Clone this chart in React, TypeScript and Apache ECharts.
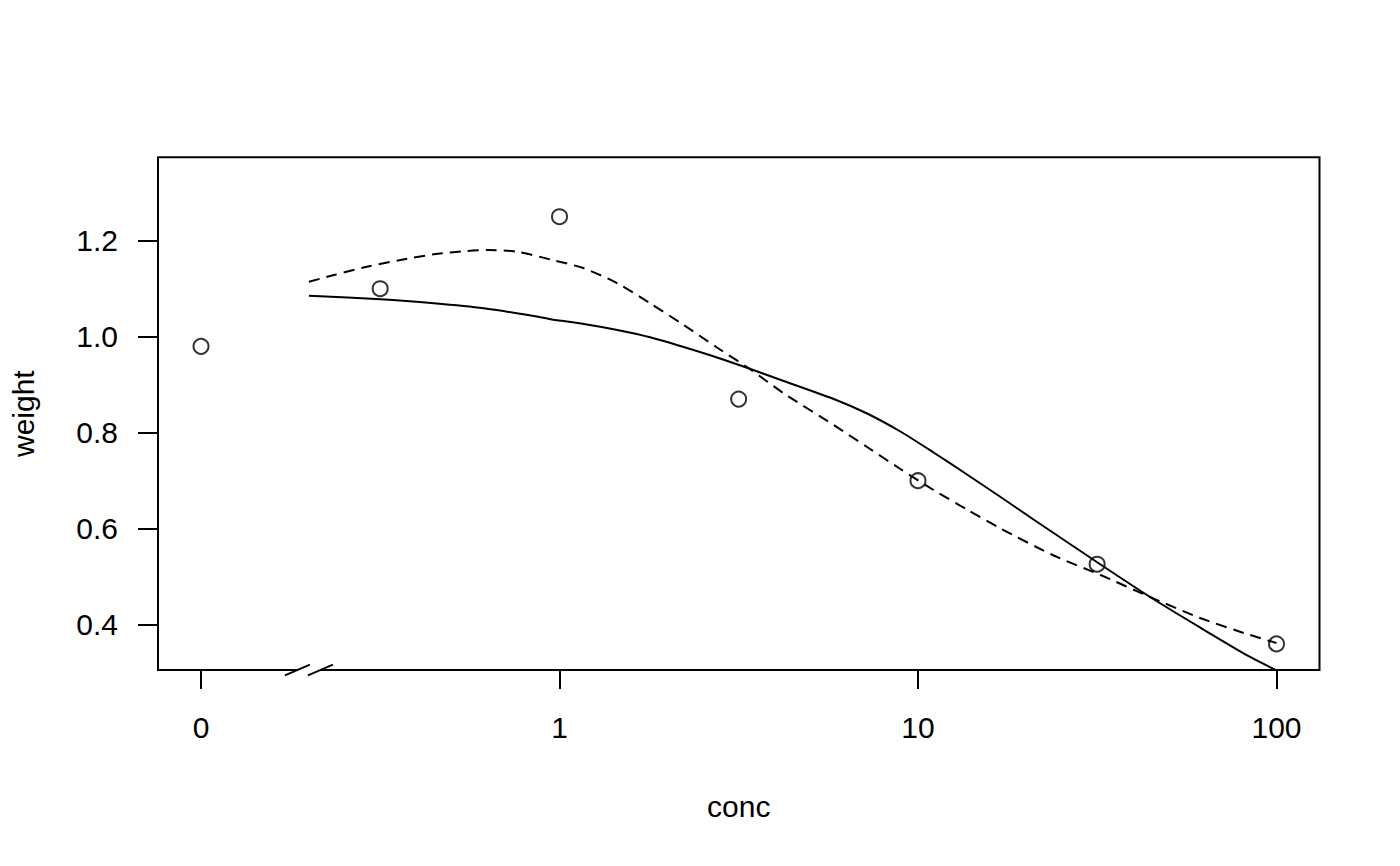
import React, { useEffect, useRef } from "react";
import * as echarts from "echarts";

// ---- data ----
const pointConc = [0, 0.316, 1, 3.16, 10, 31.6, 100];
const pointWeight = [0.98, 1.1, 1.25, 0.87, 0.7, 0.526, 0.36];

// solid fitted curve
const solidConc = [0.2, 0.317, 0.446, 0.615, 0.848, 0.944, 1.17, 1.45, 1.79, 2.22, 2.75, 3.41, 4.22, 5.82, 7.21, 8.93, 11.05, 13.7, 17.0, 21.0, 32.3, 44.4, 61.2, 84.4, 100];
const solidWeight = [1.0854, 1.0779, 1.0696, 1.0592, 1.0431, 1.0363, 1.0265, 1.014, 0.9988, 0.9785, 0.9567, 0.9327, 0.9077, 0.8702, 0.84, 0.8025, 0.7588, 0.7129, 0.666, 0.6192, 0.5254, 0.4577, 0.3942, 0.3327, 0.305];

// dashed fitted curve
const dashedConc = [0.2, 0.235, 0.29, 0.36, 0.446, 0.553, 0.63, 0.762, 0.944, 1.17, 1.45, 1.79, 2.22, 2.75, 3.41, 4.22, 5.82, 7.21, 8.93, 11.05, 13.7, 17.0, 23.9, 32.3, 44.4, 61.2, 84.4, 100];
const dashedWeight = [1.1146, 1.1285, 1.1458, 1.1598, 1.1717, 1.1785, 1.1806, 1.1771, 1.1608, 1.1425, 1.1113, 1.0696, 1.0244, 0.9775, 0.9317, 0.8821, 0.816, 0.7702, 0.7244, 0.6806, 0.64, 0.6004, 0.5442, 0.5035, 0.4577, 0.414, 0.3785, 0.3619];

const xTickConc = [0, 1, 10, 100];
const yTicks = [0.4, 0.6, 0.8, 1.0, 1.2];

const BREAK_CONC = 0.2;
const ZERO_POS = -1; // log10 position at which conc 0 is drawn
const X_MIN = -1.12;
const X_MAX = 2.12;
const Y_MIN = 0.3056;
const Y_MAX = 1.3738;

const toX = (c: number) => (c === 0 ? ZERO_POS : Math.log10(c));
const pairs = (xs: number[], ys: number[]) => xs.map((c, i) => [toX(c), ys[i]]);

const FONT = "'Liberation Sans', Arial, Helvetica, sans-serif";

export default function App() {
  const ref = useRef<HTMLDivElement>(null);
  useEffect(() => {
    if (!ref.current) return;
    const chart = echarts.init(ref.current, undefined, { renderer: "svg" });
    const xTickPos = xTickConc.map(toX);
    chart.setOption({
      animation: false,
      backgroundColor: "#fff",
      grid: {
        left: 157.5,
        right: 80.5,
        top: 157.3,
        bottom: 196,
        show: true,
        borderColor: "#000",
        borderWidth: 2,
        backgroundColor: "transparent",
      },
      xAxis: {
        type: "value",
        min: X_MIN,
        max: X_MAX,
        name: "conc",
        nameLocation: "middle",
        nameGap: 121,
        nameTextStyle: { fontFamily: FONT, fontSize: 30, color: "#000" },
        axisLine: { show: false, onZero: false },
        splitLine: { show: false },
        axisTick: {
          show: true,
          inside: false,
          length: 19,
          lineStyle: { color: "#000", width: 2 },
          customValues: xTickPos,
        },
        axisLabel: {
          margin: 42,
          fontFamily: FONT,
          fontSize: 30,
          color: "#000",
          customValues: xTickPos,
          formatter: (v: number) => {
            const i = xTickPos.findIndex((t) => Math.abs(t - v) < 1e-6);
            return i >= 0 ? String(xTickConc[i]) : "";
          },
        },
      },
      yAxis: {
        type: "value",
        min: Y_MIN,
        max: Y_MAX,
        name: "weight",
        nameLocation: "middle",
        nameRotate: 90,
        nameGap: 120,
        nameTextStyle: { fontFamily: FONT, fontSize: 30, color: "#000" },
        axisLine: { show: false, onZero: false },
        splitLine: { show: false },
        axisTick: {
          show: true,
          inside: false,
          length: 20,
          lineStyle: { color: "#000", width: 2 },
          customValues: yTicks,
        },
        axisLabel: {
          margin: 40,
          fontFamily: FONT,
          fontSize: 30,
          color: "#000",
          customValues: yTicks,
          formatter: (v: number) => v.toFixed(1),
        },
      },
      series: [
        {
          type: "line",
          data: pairs(solidConc, solidWeight),
          showSymbol: false,
          smooth: 0.25,
          clip: true,
          lineStyle: { color: "#000", width: 2 },
          z: 2,
        },
        {
          type: "line",
          data: pairs(dashedConc, dashedWeight),
          showSymbol: false,
          smooth: 0.25,
          clip: true,
          lineStyle: { color: "#000", width: 2, type: [11, 7] },
          z: 2,
        },
        {
          type: "scatter",
          data: pairs(pointConc, pointWeight),
          symbol: "circle",
          symbolSize: 15,
          itemStyle: { color: "rgba(0,0,0,0)", borderColor: "#000", borderWidth: 2 },
          z: 3,
        },
      ],
    });

    const [bx, by] = chart.convertToPixel({ gridIndex: 0 }, [Math.log10(BREAK_CONC), Y_MIN]) as number[];
    const dx = 12.5;
    const dy = 5.4;
    const off = 11.5;
    chart.setOption({
      graphic: [
        {
          type: "polygon",
          z: 100,
          shape: {
            points: [
              [bx - off - dx, by + dy],
              [bx - off + dx, by - dy],
              [bx + off + dx, by - dy],
              [bx + off - dx, by + dy],
            ],
          },
          style: { fill: "#fff", stroke: null },
        },
        {
          type: "line",
          z: 101,
          shape: { x1: bx - off - dx, y1: by + dy, x2: bx - off + dx, y2: by - dy },
          style: { stroke: "#000", lineWidth: 2 },
        },
        {
          type: "line",
          z: 101,
          shape: { x1: bx + off - dx, y1: by + dy, x2: bx + off + dx, y2: by - dy },
          style: { stroke: "#000", lineWidth: 2 },
        },
      ],
    });

    return () => chart.dispose();
  }, []);
  return (
    <div
      ref={ref}
      style={{ position: "absolute", left: 0, top: 0, width: 1400, height: 866 }}
    />
  );
}
